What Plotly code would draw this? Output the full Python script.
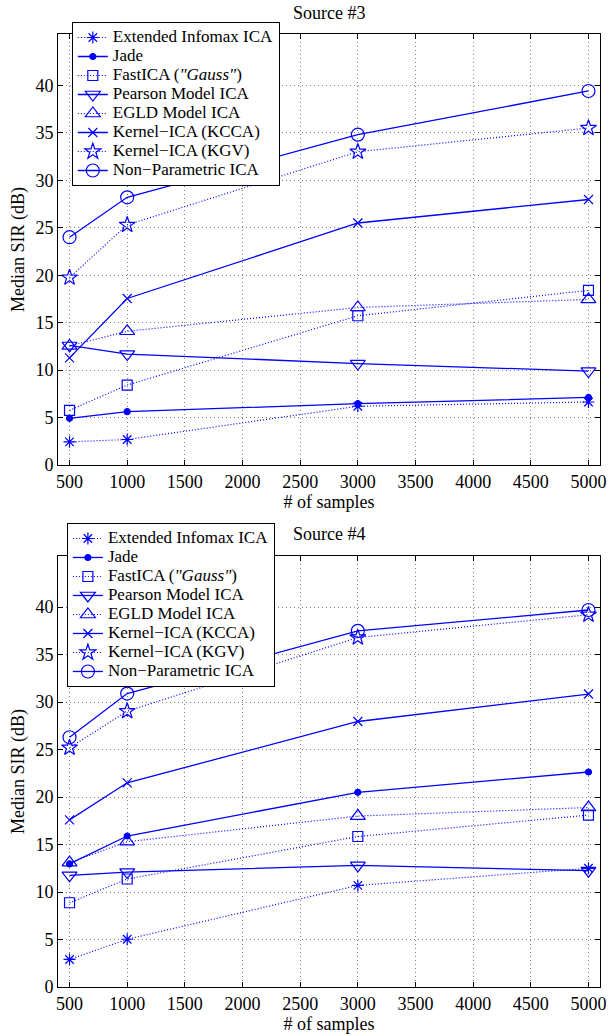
import plotly.graph_objects as go

# ---------------- data ----------------
x_samples = [500, 1000, 3000, 5000]
x_ticks = [500, 1000, 1500, 2000, 2500, 3000, 3500, 4000, 4500, 5000]
y_ticks = [0, 5, 10, 15, 20, 25, 30, 35, 40]

methods = [
    "Extended Infomax ICA",
    "Jade",
    'FastICA (<i>"Gauss"</i>)',
    "Pearson Model ICA",
    "EGLD Model ICA",
    "Kernel−ICA (KCCA)",
    "Kernel−ICA (KGV)",
    "Non−Parametric ICA",
]

# Source #3 (median SIR, dB)
s3_infomax = [2.45, 2.7, 6.2, 6.65]
s3_jade = [4.93, 5.63, 6.47, 7.13]
s3_fastica = [5.77, 8.43, 15.73, 18.4]
s3_pearson = [12.6, 11.7, 10.7, 9.9]
s3_egld = [12.55, 14.1, 16.6, 17.45]
s3_kcca = [11.3, 17.55, 25.5, 27.97]
s3_kgv = [19.75, 25.3, 33.0, 35.5]
s3_nonpar = [24.0, 28.2, 34.8, 39.4]

# Source #4 (median SIR, dB)
s4_infomax = [2.9, 5.03, 10.7, 12.5]
s4_jade = [12.96, 15.9, 20.5, 22.64]
s4_fastica = [8.87, 11.37, 15.85, 18.1]
s4_pearson = [11.76, 12.1, 12.8, 12.25]
s4_egld = [13.1, 15.3, 18.0, 18.9]
s4_kcca = [17.6, 21.5, 27.96, 30.85]
s4_kgv = [25.2, 29.05, 36.8, 39.2]
s4_nonpar = [26.3, 30.9, 37.5, 39.7]

source3 = [s3_infomax, s3_jade, s3_fastica, s3_pearson, s3_egld, s3_kcca, s3_kgv, s3_nonpar]
source4 = [s4_infomax, s4_jade, s4_fastica, s4_pearson, s4_egld, s4_kcca, s4_kgv, s4_nonpar]

# ---------------- styles ----------------
BLUE = "rgb(0,0,255)"
symbols = ["asterisk-open", "circle", "square-open", "triangle-down-open",
           "triangle-up-open", "x-thin-open", "star-open", "circle-open"]
sizes = [10, 6, 10, 13, 13, 9, 12, 13]
dashes = ["1px,2px", "solid", "1px,2px", "solid", "1px,2px", "solid", "1px,2px", "solid"]
FONT = "Liberation Serif"


def legend_label(name):
    return '<span style="font-size:17px">' + name + "</span>"


fig = go.Figure()

for vals, name, sym, sz, dash in zip(source3, methods, symbols, sizes, dashes):
    fig.add_trace(go.Scatter(
        x=x_samples, y=vals, name=legend_label(name), mode="lines+markers",
        line=dict(color=BLUE, width=1.3 if dash == "solid" else 1.2, dash=dash),
        marker=dict(symbol=sym, size=sz, color=BLUE, line=dict(color=BLUE, width=1.2)),
        xaxis="x", yaxis="y", legend="legend",
    ))

for vals, name, sym, sz, dash in zip(source4, methods, symbols, sizes, dashes):
    fig.add_trace(go.Scatter(
        x=x_samples, y=vals, name=legend_label(name), mode="lines+markers",
        line=dict(color=BLUE, width=1.3 if dash == "solid" else 1.2, dash=dash),
        marker=dict(symbol=sym, size=sz, color=BLUE, line=dict(color=BLUE, width=1.2)),
        xaxis="x2", yaxis="y2", legend="legend2",
    ))

axis_common = dict(
    showline=True, linecolor="black", linewidth=1, mirror="ticks",
    ticks="inside", ticklen=5, tickcolor="black", tickwidth=1,
    showgrid=True, gridcolor="#808080", gridwidth=1, griddash="1px,3px",
    zeroline=False, tickfont=dict(family=FONT, size=18, color="black"),
)

xa = dict(axis_common, range=[400, 5100], tickvals=x_ticks,
          title=dict(text="# of samples", font=dict(family=FONT, size=18, color="black"), standoff=2))
ya = dict(axis_common, range=[0, 45.4], tickvals=y_ticks,
          title=dict(text="Median SIR (dB)", font=dict(family=FONT, size=18, color="black"), standoff=6))

legend_common = dict(
    bgcolor="white", bordercolor="black", borderwidth=1,
    font=dict(family=FONT, size=12.3, color="black"),
    xanchor="left", yanchor="top", tracegroupgap=0,
)

fig.update_layout(
    width=614, height=1036,
    margin=dict(l=58, r=8, t=34, b=47),
    paper_bgcolor="white", plot_bgcolor="white",
    showlegend=True,
    xaxis=dict(xa, domain=[0, 1], anchor="y"),
    yaxis=dict(ya, domain=[0.5476, 1.0], anchor="x"),
    xaxis2=dict(xa, domain=[0, 1], anchor="y2"),
    yaxis2=dict(ya, domain=[0.0, 0.4524], anchor="x2"),
    legend=dict(legend_common, x=0.0255, y=1.0126),
    legend2=dict(legend_common, x=0.0164, y=0.4869),
    annotations=[
        dict(text="Source #3", x=0.5, y=1.022, xref="paper", yref="paper",
             xanchor="center", yanchor="middle", showarrow=False,
             font=dict(family=FONT, size=18, color="black")),
        dict(text="Source #4", x=0.5, y=0.4754, xref="paper", yref="paper",
             xanchor="center", yanchor="middle", showarrow=False,
             font=dict(family=FONT, size=18, color="black")),
    ],
)

fig.write_html("out.html")
